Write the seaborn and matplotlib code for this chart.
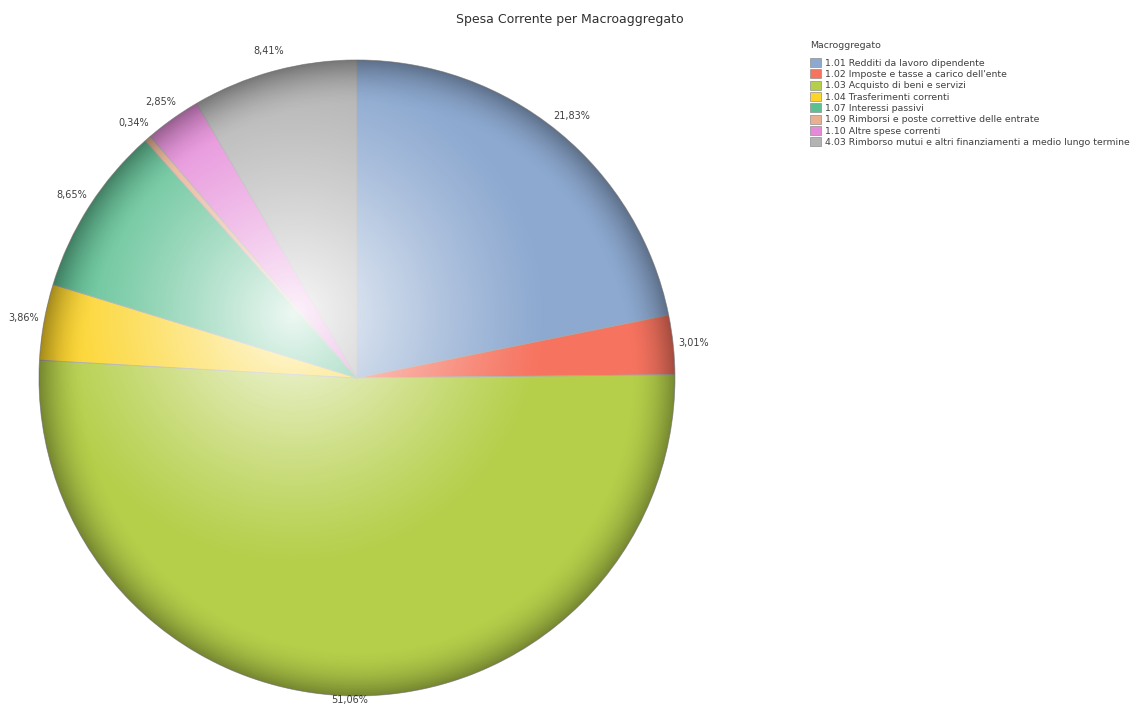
import numpy as np
import matplotlib
matplotlib.use("Agg")
import matplotlib.pyplot as plt
import seaborn as sns
from matplotlib.patches import Patch, Circle

sns.set_theme(style="white")
plt.rcParams['font.family'] = ['DejaVu Sans']

categories = [
    "1.01 Redditi da lavoro dipendente",
    "1.02 Imposte e tasse a carico dell'ente",
    "1.03 Acquisto di beni e servizi",
    "1.04 Trasferimenti correnti",
    "1.07 Interessi passivi",
    "1.09 Rimborsi e poste correttive delle entrate",
    "1.10 Altre spese correnti",
    "4.03 Rimborso mutui e altri finanziamenti a medio lungo termine",
]
values = [21.83, 3.01, 51.06, 3.86, 8.65, 0.34, 2.85, 8.41]
colors = ["#8DA9D0", "#F6735F", "#B5CF4A", "#FCD42A", "#5DC093", "#E8B090", "#E58AD8", "#B3B3B3"]

fig = plt.figure(figsize=(11.39, 7.07), dpi=100)
ax = fig.add_axes([0.0342, 0.0156, 0.5584, 0.8996])

wedges, _texts, autotexts = ax.pie(
    values, colors=colors, startangle=90, counterclock=False,
    autopct="%.2f", pctdistance=1.065,
    wedgeprops=dict(edgecolor="#A8A8A8", linewidth=0.6),
    textprops=dict(fontsize=7, color="#404040"),
)
for t, v in zip(autotexts, values):
    t.set_text(f"{v:.2f}%".replace(".", ","))
# bottom label sits close to the figure edge
x2, y2 = autotexts[2].get_position()
autotexts[2].set_position((x2, -1.012))

# glossy shading overlay (decorative)
n = 600
yy, xx = np.mgrid[1:-1:complex(0, n), -1:1:complex(0, n)]
r = np.sqrt(xx**2 + yy**2)
hx, hy = -0.2, 0.2
rh = np.sqrt((xx - hx)**2 + (yy - hy)**2)
white = np.clip(1 - rh / 0.8, 0, 1) ** 1.2 * 0.9
rgba = np.zeros((n, n, 4))
rgba[..., :3] = 1.0
rgba[..., 3] = white
ax.imshow(rgba, extent=(-1, 1, -1, 1), zorder=3)
dark = np.zeros((n, n, 4))
dark[..., 3] = np.clip((r - 0.85) / 0.15, 0, 1) ** 2 * 0.35
ax.imshow(dark, extent=(-1, 1, -1, 1), zorder=3)
circ = Circle((0, 0), 1, transform=ax.transData)
for im in ax.images:
    im.set_clip_path(circ)
ax.set_xlim(-1, 1)
ax.set_ylim(-1, 1)
ax.set_aspect("equal")
ax.axis("off")

fig.text(0.5, 0.972, "Spesa Corrente per Macroaggregato", ha="center", va="center",
         fontsize=9, color="#303030")

handles = [Patch(facecolor=c, edgecolor="#909090", linewidth=0.5) for c in colors]
leg = fig.legend(handles, categories, title="Macroggregato", loc="upper left",
                 bbox_to_anchor=(0.708, 0.948), frameon=False, fontsize=6.75,
                 title_fontsize=6.75, handlelength=1.15, handleheight=1.1,
                 handletextpad=0.45, labelspacing=0.18, borderaxespad=0)
leg._legend_box.align = "left"
leg._legend_box.sep = 6
for t in leg.get_texts():
    t.set_color("#404040")
leg.get_title().set_color("#404040")

fig.savefig("out.png", dpi=100)
